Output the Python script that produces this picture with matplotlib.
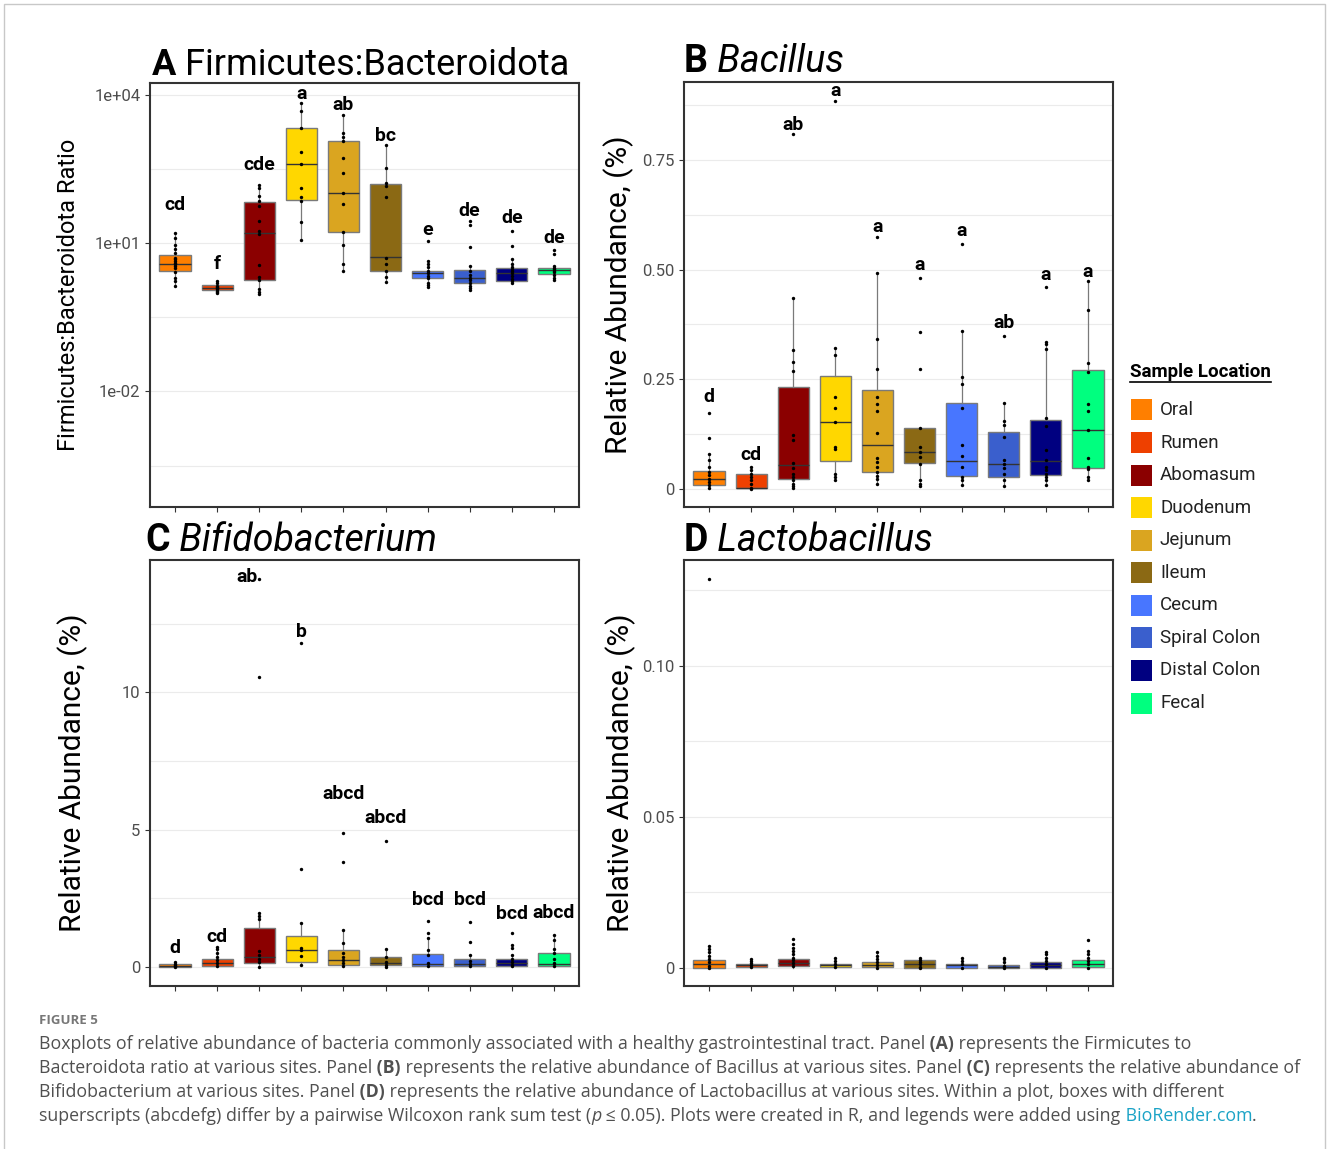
import numpy as np
import matplotlib
matplotlib.use("Agg")
import matplotlib.pyplot as plt
from matplotlib.patches import Rectangle
from matplotlib.lines import Line2D

plt.rcParams["font.family"] = ["Roboto", "DejaVu Sans"]

locations = ["Oral", "Rumen", "Abomasum", "Duodenum", "Jejunum", "Ileum",
             "Cecum", "Spiral Colon", "Distal Colon", "Fecal"]
colors = ["#FF7F00", "#EE4000", "#8B0000", "#FFD700", "#DAA520", "#8B6914",
          "#4876FF", "#3A5FCD", "#000080", "#00FF7F"]

# ---- A: Firmicutes:Bacteroidota ratio (log scale)
a_q1 = [2.73, 1.13, 1.83, 76.9, 17.2, 2.77, 1.95, 1.57, 1.75, 2.45]
a_med = [3.90, 1.26, 16.4, 414, 105, 5.31, 2.49, 1.97, 2.49, 2.86]
a_q3 = [5.73, 1.41, 69.0, 2133, 1186, 161, 2.73, 2.90, 3.14, 3.18]
a_lo = [1.38, 0.98, 0.94, 11.9, 2.77, 1.66, 1.28, 1.15, 1.57, 1.80]
a_hi = [16.4, 1.75, 154, 7112, 3954, 984, 4.41, 3.50, 4.76, 3.50]
a_points = [
    [16.4, 12.8, 9.5, 7.6, 6.5, 5.1, 4.8, 4.4, 4.0, 3.8, 3.5, 3.2, 2.6, 2.0, 1.75, 1.38],
    [1.75, 1.55, 1.4, 1.3, 1.25, 1.2, 1.1, 1.05, 0.98],
    [154, 132, 90, 71, 56.5, 29, 17.7, 15.2, 3.6, 2.1, 1.8, 1.19, 1.02, 0.94],
    [7112, 4764, 2133, 701, 414, 132, 87, 71, 27.7, 11.9],
    [3954, 1690, 1449, 1186, 531, 265, 105, 63.8, 17.2, 9.2, 3.8, 2.77],
    [984, 333, 166, 143, 87, 5.1, 3.8, 2.77, 2.04, 1.66],
    [11.1, 4.41, 3.9, 3.3, 2.8, 2.5, 2.2, 1.95, 1.6, 1.45, 1.3],
    [29, 23.4, 8.6, 3.5, 2.7, 2.3, 2.0, 1.8, 1.6, 1.4, 1.25, 1.15],
    [17.7, 8.8, 4.76, 3.9, 3.3, 3.0, 2.7, 2.5, 2.2, 1.9, 1.75, 1.6],
    [7.2, 6.2, 3.5, 3.2, 3.0, 2.8, 2.6, 2.3, 2.0, 1.8],
]
a_letters = ["cd", "f", "cde", "a", "ab", "bc", "e", "de", "de", "de"]
a_letter_y = [61, 3.8, 390, 10800, 6300, 1517, 19.1, 46, 33, 13]

# ---- B: Bacillus
b_q1 = [0.008, 0.001, 0.021, 0.063, 0.038, 0.058, 0.028, 0.027, 0.032, 0.047]
b_med = [0.021, 0.002, 0.053, 0.151, 0.099, 0.084, 0.062, 0.056, 0.063, 0.133]
b_q3 = [0.040, 0.033, 0.232, 0.257, 0.224, 0.139, 0.195, 0.130, 0.157, 0.271]
b_lo = [0.0, 0.0, 0.002, 0.019, 0.011, 0.005, 0.008, 0.005, 0.008, 0.019]
b_hi = [0.078, 0.049, 0.436, 0.321, 0.491, 0.139, 0.360, 0.195, 0.335, 0.473]
b_points = [
    [0.173, 0.116, 0.078, 0.066, 0.050, 0.038, 0.030, 0.023, 0.015, 0.008, 0.002],
    [0.049, 0.042, 0.034, 0.027, 0.019, 0.011, 0.002, 0.0],
    [0.809, 0.436, 0.317, 0.289, 0.268, 0.122, 0.112, 0.059, 0.046, 0.034, 0.027, 0.019, 0.011, 0.005, 0.002],
    [0.885, 0.321, 0.306, 0.210, 0.183, 0.151, 0.095, 0.091, 0.034, 0.027, 0.020],
    [0.574, 0.491, 0.342, 0.272, 0.210, 0.192, 0.176, 0.128, 0.070, 0.061, 0.049, 0.038, 0.028, 0.021, 0.011],
    [0.481, 0.358, 0.272, 0.139, 0.095, 0.084, 0.072, 0.057, 0.019, 0.011, 0.005],
    [0.558, 0.360, 0.254, 0.239, 0.184, 0.100, 0.074, 0.050, 0.026, 0.019, 0.008],
    [0.348, 0.195, 0.155, 0.145, 0.118, 0.065, 0.057, 0.046, 0.034, 0.019, 0.005],
    [0.459, 0.335, 0.329, 0.318, 0.160, 0.144, 0.087, 0.065, 0.049, 0.042, 0.034, 0.027, 0.019, 0.008],
    [0.473, 0.407, 0.287, 0.266, 0.194, 0.176, 0.133, 0.070, 0.049, 0.045, 0.027, 0.019],
]
b_letters = ["d", "cd", "ab", "a", "a", "a", "a", "ab", "a", "a"]
b_letter_y = [0.208, 0.076, 0.831, 0.907, 0.597, 0.510, 0.588, 0.377, 0.487, 0.494]

# ---- C: Bifidobacterium
c_q1 = [0.0, 0.024, 0.12, 0.19, 0.06, 0.05, 0.024, 0.036, 0.036, 0.024]
c_med = [0.036, 0.146, 0.34, 0.61, 0.24, 0.12, 0.085, 0.085, 0.12, 0.085]
c_q3 = [0.097, 0.28, 1.42, 1.12, 0.61, 0.34, 0.45, 0.28, 0.28, 0.49]
c_lo = [0.0, 0.0, 0.0, 0.06, 0.0, 0.0, 0.0, 0.0, 0.0, 0.0]
c_hi = [0.16, 0.73, 1.97, 1.58, 1.34, 0.63, 1.06, 0.43, 0.43, 1.15]
c_points = [
    [0.16, 0.1, 0.05, 0.02, 0.0],
    [0.73, 0.63, 0.49, 0.36, 0.24, 0.12, 0.02],
    [14.13, 10.57, 1.97, 1.86, 1.74, 0.58, 0.43, 0.30, 0.18, 0.0],
    [11.81, 3.55, 1.58, 0.69, 0.61, 0.39, 0.08],
    [4.86, 3.83, 1.34, 0.88, 0.52, 0.34, 0.24, 0.12, 0.02],
    [4.59, 0.63, 0.34, 0.18, 0.06, 0.0],
    [1.66, 1.22, 1.06, 0.61, 0.43, 0.12, 0.02],
    [1.64, 0.91, 0.43, 0.2, 0.09, 0.03],
    [1.22, 0.81, 0.67, 0.43, 0.3, 0.18, 0.08, 0.02],
    [1.15, 0.97, 0.63, 0.51, 0.30, 0.12, 0.02],
]
c_letters = ["d", "cd", "ab", "b", "abcd", "abcd", "bcd", "bcd", "bcd", "abcd"]
c_letter_y = [0.67, 1.07, 14.2, 12.2, 6.29, 5.43, 2.43, 2.43, 1.94, 1.96]

# ---- D: Lactobacillus
d_q1 = [0.0, 0.0003, 0.0006, 0.0002, 0.0003, 0.0, 0.0, 0.0, 0.0, 0.0002]
d_med = [0.0011, 0.0009, 0.0015, 0.0007, 0.0009, 0.0011, 0.0007, 0.0003, 0.0008, 0.0013]
d_q3 = [0.0024, 0.0013, 0.0027, 0.0013, 0.0017, 0.0024, 0.0013, 0.0008, 0.0017, 0.0024]
d_lo = [0.0] * 10
d_hi = [0.0061, 0.0028, 0.0055, 0.0033, 0.0050, 0.0033, 0.0033, 0.0017, 0.0044, 0.0055]
d_points = [
    [0.1287, 0.0072, 0.0061, 0.0050, 0.0039, 0.0028, 0.0017, 0.0006, 0.0],
    [0.0028, 0.0022, 0.0015, 0.0009, 0.0003],
    [0.0094, 0.0077, 0.0066, 0.0055, 0.0044, 0.0033, 0.0024, 0.0015, 0.0006],
    [0.0033, 0.0022, 0.0011, 0.0003],
    [0.0050, 0.0039, 0.0028, 0.0017, 0.0009, 0.0],
    [0.0033, 0.0024, 0.0017, 0.0011, 0.0003, 0.0],
    [0.0033, 0.0022, 0.0011, 0.0],
    [0.0033, 0.0028, 0.0017, 0.0006, 0.0],
    [0.0050, 0.0044, 0.0033, 0.0022, 0.0011, 0.0],
    [0.0091, 0.0055, 0.0044, 0.0033, 0.0022, 0.0011, 0.0],
]

W, H = 1328, 1149
fig = plt.figure(figsize=(W / 100, H / 100), dpi=100)
fig.patch.set_facecolor("white")


def px_axes(x0, y0, x1, y1):
    return fig.add_axes([x0 / W, 1 - y1 / H, (x1 - x0) / W, (y1 - y0) / H])


def draw_panel(ax, q1, med, q3, lo, hi, pts, letters=None, letter_y=None, shift=None):
    stats = [dict(q1=q1[i], med=med[i], q3=q3[i], whislo=lo[i], whishi=hi[i], fliers=[])
             for i in range(len(q1))]
    bp = ax.bxp(stats, positions=np.arange(1, 11), widths=0.75, patch_artist=True,
                showfliers=False, showcaps=False,
                boxprops=dict(edgecolor="#7a7a7a", linewidth=1.0),
                whiskerprops=dict(color="#7a7a7a", linewidth=0.9),
                medianprops=dict(color="#333333", linewidth=1.0))
    for patch, col in zip(bp["boxes"], colors):
        patch.set_facecolor(col)
    for i, p in enumerate(pts):
        ax.scatter(np.full(len(p), i + 1), p, s=6, color="black", zorder=3, linewidths=0)
    if letters:
        for i, lab in enumerate(letters):
            dx = shift.get(i, 0) if shift else 0
            ax.text(i + 1 + dx, letter_y[i], lab, ha="center", va="center",
                    fontsize=14, fontweight="bold", color="black")
    ax.set_xlim(0.4, 10.6)
    ax.set_xticks(np.arange(1, 11))
    ax.set_xticklabels([])
    ax.tick_params(axis="both", length=3.5, width=0.8, color="#333333",
                   labelsize=12, labelcolor="#4d4d4d")
    for s in ax.spines.values():
        s.set_linewidth(1.5)
        s.set_color("#333333")
    ax.set_axisbelow(True)


def set_grid(ax, major, minor):
    ax.set_yticks(major)
    ax.set_yticks(minor, minor=True)
    ax.tick_params(axis="y", which="minor", length=0)
    ax.grid(axis="y", which="both", color="#ebebeb", linewidth=0.8)
    ax.grid(axis="x", visible=False)


# Panel A
axA = px_axes(150, 83, 579, 507)
axA.set_yscale("log")
draw_panel(axA, a_q1, a_med, a_q3, a_lo, a_hi, a_points, a_letters, a_letter_y)
axA.set_ylim(10 ** -4.34, 10 ** 4.25)
set_grid(axA, [1e-2, 1e1, 1e4], [10 ** -3.5, 10 ** -0.5, 10 ** 2.5])
axA.set_yticklabels(["1e-02", "1e+01", "1e+04"])
axA.set_ylabel("Firmicutes:Bacteroidota Ratio", fontsize=17, labelpad=10)

# Panel B
axB = px_axes(684, 82, 1113, 507)
draw_panel(axB, b_q1, b_med, b_q3, b_lo, b_hi, b_points, b_letters, b_letter_y)
axB.set_ylim(-0.042, 0.928)
set_grid(axB, [0, 0.25, 0.5, 0.75], [0.125, 0.375, 0.625, 0.875])
axB.set_yticklabels(["0", "0.25", "0.50", "0.75"])
axB.set_ylabel("Relative Abundance, (%)", fontsize=21.5, labelpad=6)

# Panel C
axC = px_axes(150, 560, 579, 986)
draw_panel(axC, c_q1, c_med, c_q3, c_lo, c_hi, c_points, c_letters, c_letter_y,
           shift={2: -0.3})
axC.set_ylim(-0.70, 14.82)
set_grid(axC, [0, 5, 10], [2.5, 7.5, 12.5])
axC.set_yticklabels(["0", "5", "10"])
axC.set_ylabel("Relative Abundance, (%)", fontsize=21.5, labelpad=24)

# Panel D
axD = px_axes(684, 560, 1113, 986)
draw_panel(axD, d_q1, d_med, d_q3, d_lo, d_hi, d_points)
axD.set_ylim(-0.0061, 0.135)
set_grid(axD, [0, 0.05, 0.10], [0.025, 0.075, 0.125])
axD.set_yticklabels(["0", "0.05", "0.10"])
axD.set_ylabel("Relative Abundance, (%)", fontsize=21.5, labelpad=4)

renderer = fig.canvas.get_renderer()


def put_runs(x_px, y_px, runs, size, family, color="black"):
    # place consecutive text pieces on one baseline; spaces go at the start of a piece
    x = x_px / W
    y = 1 - y_px / H
    for run in runs:
        text, weight, style = run[0], run[1], run[2]
        col = run[3] if len(run) > 3 else color
        t = fig.text(x, y, text, fontsize=size, fontweight=weight, fontstyle=style,
                     color=col, family=family, ha="left", va="baseline")
        x += t.get_window_extent(renderer).width / W


# panel titles
put_runs(152, 75, [("A", "bold", "normal"), (" Firmicutes:Bacteroidota", "normal", "normal")],
         26, ["Roboto"])
put_runs(684, 72, [("B", "bold", "normal"), (" Bacillus", "normal", "italic")], 27, ["Roboto"])
put_runs(145, 551, [("C", "bold", "normal"), (" Bifidobacterium", "normal", "italic")],
         27, ["Roboto"])
put_runs(684, 551, [("D", "bold", "normal"), (" Lactobacillus", "normal", "italic")],
         27, ["Roboto"])

# legend
lt = fig.text(1130 / W, 1 - 372 / H, "Sample Location", fontsize=13.5, fontweight="bold",
              ha="left", va="center")
bb = lt.get_window_extent(renderer)
fig.add_artist(Line2D([bb.x0 / W, bb.x1 / W], [1 - 382 / H, 1 - 382 / H],
                      color="black", linewidth=1.2))
for name, col, yc in zip(locations, colors, np.linspace(410, 703, len(locations))):
    fig.add_artist(Rectangle((1131 / W, 1 - (yc + 10.5) / H), 21 / W, 21 / H,
                             facecolor=col, edgecolor="none"))
    fig.text(1160 / W, 1 - yc / H, name, fontsize=13.5, ha="left", va="center", color="#222222")

# caption
cap_font = ["Open Sans", "DejaVu Sans"]
cap_col = "#505050"
fig.text(39 / W, 1 - 1021 / H, "FIGURE 5", fontsize=9.5, fontweight="bold", color="#777777",
         family=cap_font, ha="left", va="center")
N, B_, I_ = "normal", "bold", "italic"
caption_lines = [
    [("Boxplots of relative abundance of bacteria commonly associated with a healthy "
      "gastrointestinal tract. Panel", N, N), (" (A)", B_, N),
     (" represents the Firmicutes to", N, N)],
    [("Bacteroidota ratio at various sites. Panel", N, N), (" (B)", B_, N),
     (" represents the relative abundance of Bacillus at various sites. Panel", N, N),
     (" (C)", B_, N), (" represents the relative abundance of", N, N)],
    [("Bifidobacterium at various sites. Panel", N, N), (" (D)", B_, N),
     (" represents the relative abundance of Lactobacillus at various sites. "
      "Within a plot, boxes with different", N, N)],
    [("superscripts (abcdefg) differ by a pairwise Wilcoxon rank sum test (", N, N),
     ("p", N, I_), (" \u2264 0.05). Plots were created in R, and legends were added using", N, N),
     (" BioRender.com", N, N, "#1ba3c6"), (".", N, N)],
]
for k, line in enumerate(caption_lines):
    put_runs(39, 1049 + 24 * k, line, 12.75, cap_font, color=cap_col)

fig.add_artist(Rectangle((4 / W, -0.01), 1321 / W, 1 - 4 / H + 0.01, fill=False,
                         edgecolor="#c8c8c8", linewidth=1.0))

fig.savefig("out.png", dpi=100)
